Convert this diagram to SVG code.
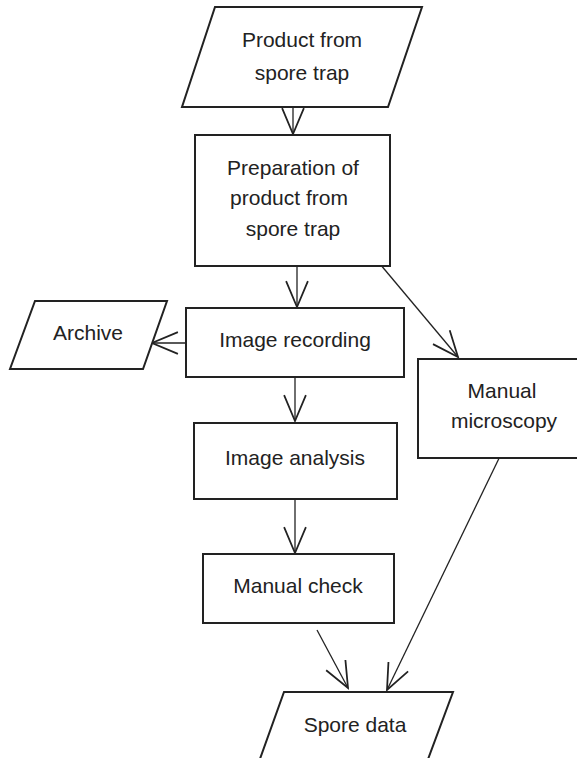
<svg xmlns="http://www.w3.org/2000/svg" width="577" height="758" viewBox="0 0 577 758">
<style>
.n{fill:#fff;stroke:#222;stroke-width:2}
.t{font-family:"Liberation Sans",Arial,sans-serif;font-size:21px;fill:#222;text-anchor:middle}
.c{stroke:#222;stroke-width:1.3;fill:none;marker-end:url(#v)}
</style>
<defs>
<marker id="v" markerUnits="userSpaceOnUse" markerWidth="30" markerHeight="30" viewBox="-20 -10 22 20" refX="0" refY="0" orient="auto">
<path d="M-19,-8 L0,0 L-19,8" fill="none" stroke="#222" stroke-width="1.3"/>
</marker>
</defs>
<rect width="577" height="758" fill="#fff"/>
<g id="connectors">
<line class="c" x1="293" y1="107" x2="293" y2="134"/>
<line class="c" x1="297" y1="266" x2="297" y2="307"/>
<line class="c" x1="186" y1="343" x2="152" y2="343"/>
<line class="c" x1="380" y1="264" x2="458" y2="357"/>
<line class="c" x1="295" y1="377" x2="295" y2="421"/>
<line class="c" x1="295" y1="499" x2="295" y2="553"/>
<line class="c" x1="317" y1="630" x2="348" y2="688"/>
<line class="c" x1="504" y1="448" x2="387" y2="690"/>
</g>
<g id="product">
<polygon class="n" points="215,7 422,7 388,107 182,107"/>
<text class="t" x="302" y="47">Product from</text>
<text class="t" x="302" y="80">spore trap</text>
</g>
<g id="preparation">
<rect class="n" x="195" y="135" width="195" height="131"/>
<text class="t" x="293" y="175">Preparation of</text>
<text class="t" x="289" y="205">product from</text>
<text class="t" x="293" y="236">spore trap</text>
</g>
<g id="image-recording">
<rect class="n" x="186" y="308" width="218" height="69"/>
<text class="t" x="295" y="347">Image recording</text>
</g>
<g id="archive">
<polygon class="n" points="35,301 167,301 143,369 10,369"/>
<text class="t" x="88" y="340">Archive</text>
</g>
<g id="image-analysis">
<rect class="n" x="194" y="423" width="203" height="76"/>
<text class="t" x="295" y="465">Image analysis</text>
</g>
<g id="manual-check">
<rect class="n" x="203" y="554" width="191" height="69"/>
<text class="t" x="298" y="593">Manual check</text>
</g>
<g id="manual-microscopy">
<rect class="n" x="418" y="359" width="170" height="99"/>
<text class="t" x="502" y="398">Manual</text>
<text class="t" x="504" y="428">microscopy</text>
</g>
<g id="spore-data">
<polygon class="n" points="284,692 453,692 424,770 256,770"/>
<text class="t" x="355" y="732">Spore data</text>
</g>
</svg>
